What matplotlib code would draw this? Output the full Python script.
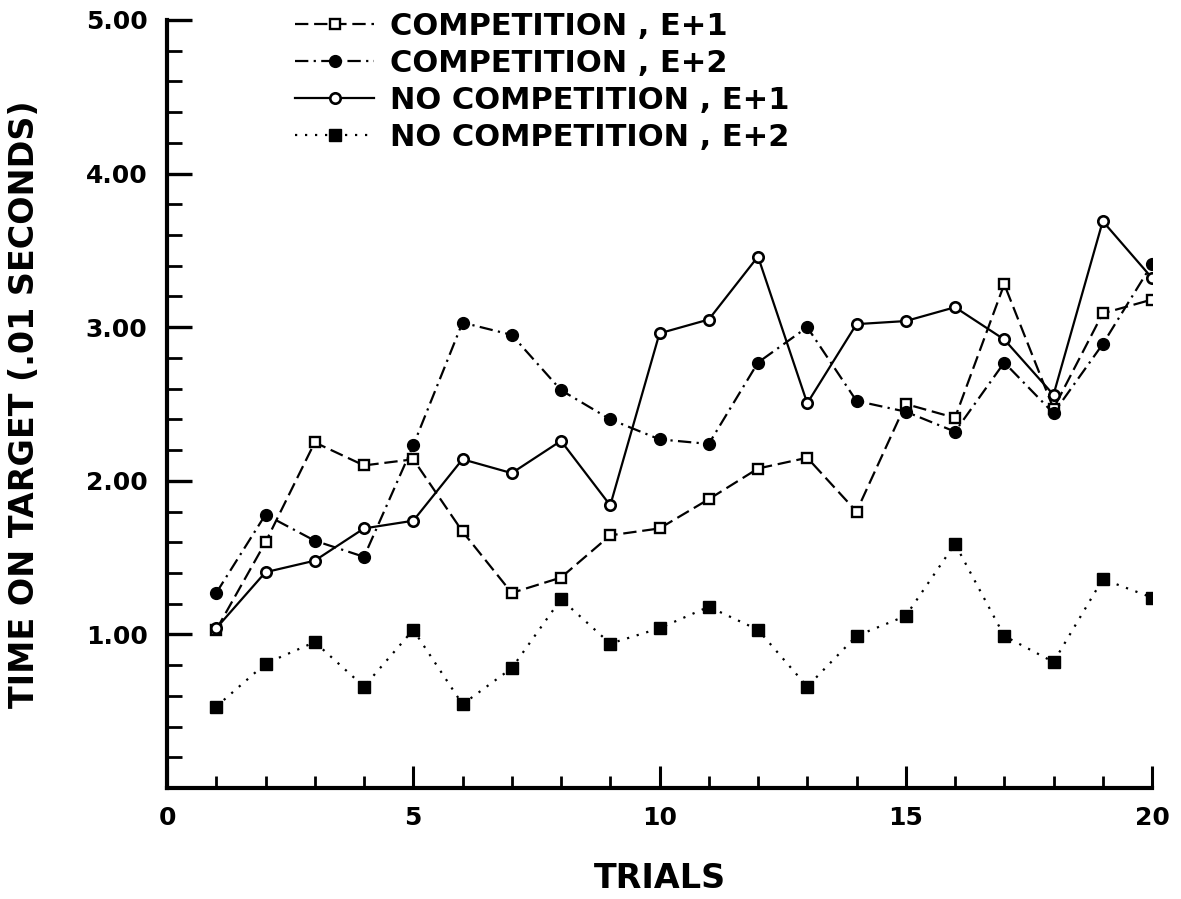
import matplotlib
matplotlib.use("Agg")
import matplotlib.pyplot as plt
from matplotlib.ticker import MultipleLocator, FixedLocator, FormatStrFormatter

trials = list(range(1, 21))

comp_e1 = [1.03, 1.60, 2.25, 2.10, 2.14, 1.67, 1.27, 1.37, 1.645, 1.69,
           1.88, 2.08, 2.15, 1.80, 2.50, 2.41, 3.28, 2.47, 3.09, 3.18]
comp_e2 = [1.27, 1.78, 1.61, 1.505, 2.23, 3.03, 2.95, 2.59, 2.40, 2.27,
           2.24, 2.77, 3.00, 2.52, 2.45, 2.32, 2.77, 2.44, 2.89, 3.41]
nocomp_e1 = [1.04, 1.405, 1.48, 1.69, 1.74, 2.14, 2.05, 2.26, 1.84, 2.96,
             3.05, 3.46, 2.505, 3.02, 3.04, 3.13, 2.92, 2.56, 3.69, 3.32]
nocomp_e2 = [0.53, 0.81, 0.95, 0.66, 1.03, 0.545, 0.78, 1.23, 0.94, 1.04,
             1.18, 1.03, 0.66, 0.99, 1.12, 1.59, 0.99, 0.82, 1.36, 1.24]

labels = ["COMPETITION , E+1", "COMPETITION , E+2",
          "NO COMPETITION , E+1", "NO COMPETITION , E+2"]

x_major = [0, 5, 10, 15, 20]
y_major = [1.0, 2.0, 3.0, 4.0, 5.0]

plt.rcParams['font.family'] = ['DejaVu Sans']

fig = plt.figure(figsize=(11.81, 8.99), dpi=100)
ax = fig.add_axes([167 / 1181, 111 / 899, 985 / 1181, 768 / 899])

lw = 1.6
ax.plot(trials, comp_e1, color='black', lw=lw, linestyle=(0, (6, 2.6)),
        marker='s', markersize=7.5, markerfacecolor='white',
        markeredgecolor='black', markeredgewidth=1.7, label=labels[0])
ax.plot(trials, comp_e2, color='black', lw=lw, linestyle=(0, (6, 2.4, 1, 2.4)),
        marker='o', markersize=8.5, markerfacecolor='black',
        markeredgecolor='black', label=labels[1])
ax.plot(trials, nocomp_e1, color='black', lw=lw, linestyle='-',
        marker='o', markersize=7.5, markerfacecolor='white',
        markeredgecolor='black', markeredgewidth=1.9, label=labels[2])
ax.plot(trials, nocomp_e2, color='black', lw=lw, linestyle=(0, (1, 3.5)),
        marker='s', markersize=8.5, markerfacecolor='black',
        markeredgecolor='black', label=labels[3])

ax.set_xlim(0, 20)
ax.set_ylim(0, 5)

for side in ('top', 'right'):
    ax.spines[side].set_visible(False)
for side in ('left', 'bottom'):
    ax.spines[side].set_linewidth(3)
    ax.spines[side].set_capstyle('projecting')

ax.xaxis.set_major_locator(FixedLocator(x_major))
ax.xaxis.set_minor_locator(MultipleLocator(1))
ax.yaxis.set_major_locator(FixedLocator(y_major))
ax.yaxis.set_minor_locator(MultipleLocator(0.2))
ax.yaxis.set_major_formatter(FormatStrFormatter('%.2f'))

ax.tick_params(axis='y', which='major', direction='in', length=18, width=2.4,
               pad=14, labelsize=18)
ax.tick_params(axis='y', which='minor', direction='in', length=11, width=2)
ax.tick_params(axis='x', which='major', direction='in', length=16, width=2.2,
               pad=13, labelsize=18)
ax.tick_params(axis='x', which='minor', direction='in', length=9, width=2)
for t in ax.get_xticklabels() + ax.get_yticklabels():
    t.set_fontweight('bold')

ax.set_ylabel("TIME ON TARGET (.01 SECONDS)", fontsize=24, fontweight='bold')
ax.yaxis.set_label_coords(-0.128, 0.5)
ax.set_xlabel("TRIALS", fontsize=24, fontweight='bold')
ax.xaxis.set_label_coords(0.5, -0.097)

leg = ax.legend(loc='upper left', bbox_to_anchor=(295 / 1181, 1 - 12 / 899),
                bbox_transform=fig.transFigure, frameon=False, fontsize=22,
                handlelength=2.6, handletextpad=0.5, labelspacing=0.26,
                borderaxespad=0, borderpad=0)
for t in leg.get_texts():
    t.set_fontweight('bold')

fig.savefig("out.png", dpi=100)
